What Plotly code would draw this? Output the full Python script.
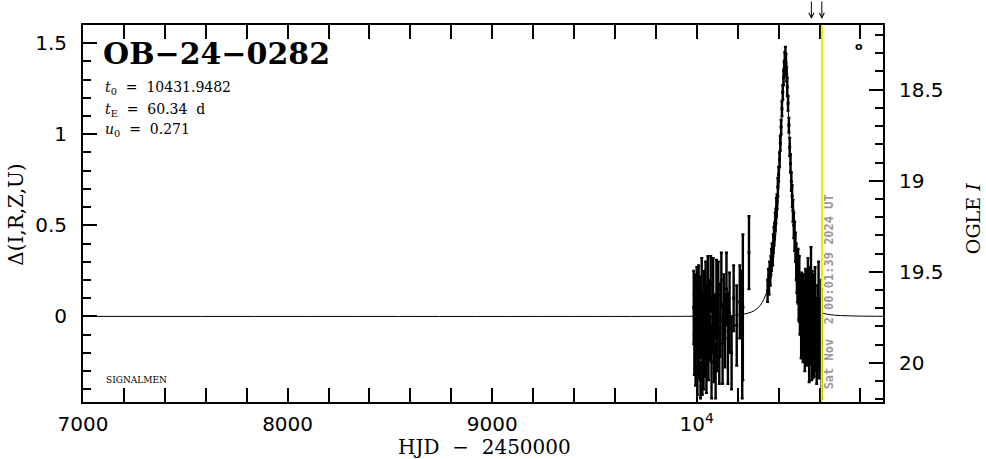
import plotly.graph_objects as go

# ---- data ----
hjd_pre = [9985, 9988, 9991, 9994, 9997, 10000, 10003, 10006, 10009, 10012, 10015, 10018, 10021,
           10024, 10027, 10030, 10033, 10036, 10040, 10043, 10047, 10050, 10054, 10057, 10061,
           10064, 10068, 10072, 10076, 10080, 10084, 10088, 10092, 10096, 10100, 10105, 10110,
           10115, 10120, 10126, 10132, 10138, 10145, 10152, 10160, 10170, 10180, 10195, 10210,
           10222, 10225, 10255]
dlt_pre = [0.05, -0.10, 0.08, -0.20, -0.05, 0.02, -0.28, -0.12, 0.10, -0.22, 0.00, -0.35, -0.08,
           0.12, -0.18, -0.02, -0.25, 0.05, -0.15, 0.15, -0.30, -0.05, 0.08, -0.20, 0.02,
           -0.12, 0.18, -0.25, -0.05, 0.10, -0.18, 0.00, -0.30, 0.06, -0.10, 0.12, -0.22,
           -0.02, 0.20, -0.15, 0.05, -0.08, 0.15, -0.12, 0.02, -0.20, 0.10, -0.05, 0.08,
           -0.10, 0.05, 0.35]
err_pre = [0.20, 0.22, 0.15, 0.18, 0.12, 0.25, 0.15, 0.20, 0.18, 0.12, 0.22, 0.10, 0.15,
           0.20, 0.25, 0.12, 0.15, 0.20, 0.18, 0.15, 0.12, 0.22, 0.25, 0.15, 0.18,
           0.12, 0.15, 0.20, 0.15, 0.22, 0.18, 0.12, 0.15, 0.25, 0.20, 0.18, 0.15,
           0.20, 0.15, 0.22, 0.18, 0.20, 0.20, 0.25, 0.22, 0.20, 0.18, 0.22, 0.20,
           0.35, 0.40, 0.20]

hjd_evt = [10346, 10350, 10353, 10356, 10359, 10362, 10365, 10368, 10371, 10374, 10377, 10380,
           10383, 10386, 10389, 10392, 10396, 10400, 10404, 10408, 10412, 10416, 10420, 10424,
           10427, 10430, 10433, 10436, 10439, 10442, 10446, 10450, 10454, 10458, 10462, 10466,
           10470, 10474, 10478, 10482, 10486, 10489, 10492, 10495, 10498, 10501, 10504, 10507,
           10510, 10513, 10516, 10519, 10522, 10525, 10528, 10531, 10534, 10537, 10540, 10543,
           10546, 10549, 10552, 10555, 10558, 10561, 10564, 10567, 10570, 10574, 10578, 10582,
           10586, 10590, 10595, 10600, 10606, 10610]
dlt_evt = [0.14, 0.20, 0.17, 0.24, 0.22, 0.28, 0.31, 0.35, 0.33, 0.40, 0.44, 0.47,
           0.52, 0.55, 0.60, 0.63, 0.71, 0.78, 0.86, 0.95, 1.04, 1.14, 1.23, 1.31,
           1.36, 1.40, 1.44, 1.39, 1.33, 1.26, 1.17, 1.05, 0.93, 0.84, 0.74, 0.66,
           0.58, 0.50, 0.44, 0.38, 0.30, 0.25, 0.18, 0.22, 0.10, 0.15, 0.02, 0.08,
           -0.05, 0.12, 0.00, -0.10, 0.05, -0.02, -0.15, 0.06, -0.08, 0.00, -0.12, 0.10,
           -0.05, -0.18, 0.02, -0.10, 0.06, -0.20, 0.05, -0.12, -0.05, -0.15, 0.02, -0.10,
           -0.22, -0.08, 0.00, -0.12, -0.05, -0.15]
err_evt = [0.06, 0.06, 0.05, 0.06, 0.05, 0.05, 0.06, 0.05, 0.05, 0.05, 0.05, 0.04,
           0.05, 0.04, 0.05, 0.04, 0.05, 0.04, 0.04, 0.04, 0.04, 0.04, 0.04, 0.04,
           0.04, 0.05, 0.04, 0.05, 0.04, 0.05, 0.04, 0.04, 0.05, 0.05, 0.05, 0.06,
           0.06, 0.07, 0.08, 0.08, 0.10, 0.12, 0.10, 0.15, 0.12, 0.18, 0.12, 0.15,
           0.18, 0.12, 0.20, 0.15, 0.18, 0.22, 0.15, 0.20, 0.18, 0.25, 0.15, 0.22,
           0.20, 0.18, 0.25, 0.15, 0.32, 0.15, 0.20, 0.22, 0.28, 0.18, 0.25, 0.20,
           0.15, 0.25, 0.30, 0.22, 0.25, 0.30]

model_t = [7000, 9800, 9950, 10070, 10130, 10190, 10251, 10281, 10311, 10341, 10360, 10372,
           10384, 10390, 10396, 10402, 10408, 10414, 10420, 10426, 10429, 10432, 10435, 10438,
           10444, 10450, 10456, 10462, 10468, 10474, 10480, 10492, 10504, 10523, 10553, 10583,
           10613, 10673, 10734, 10794, 10914]
model_d = [0, 0, 0.0005, 0.0017, 0.0035, 0.0067, 0.018, 0.032, 0.062, 0.131, 0.213, 0.299,
           0.425, 0.509, 0.611, 0.733, 0.879, 1.047, 1.226, 1.382, 1.430, 1.447, 1.430, 1.382,
           1.226, 1.047, 0.879, 0.733, 0.611, 0.509, 0.425, 0.299, 0.213, 0.131, 0.062, 0.032,
           0.018, 0.0067, 0.0035, 0.0017, 0.0005]

x_ticks = [7000, 8000, 9000, 10000]
x_ticktext = ["7000", "8000", "9000", "10<sup>4</sup>"]
y_ticks = [0, 0.5, 1, 1.5]
y_ticktext = ["0", "0.5", "1", "1.5"]
mag_ticks = [18.5, 19, 19.5, 20]
mag_ticktext = ["18.5", "19", "19.5", "20"]

t_now = 10611
t_last = 10560
event_name = "OB\u221224\u22120282"
par_lines = ["<i>t</i><sub>0</sub>\u00a0\u00a0=\u00a0\u00a010431.9482",
             "<i>t</i><sub>E</sub>\u00a0\u00a0=\u00a0\u00a060.34\u00a0\u00a0d",
             "<i>u</i><sub>0</sub>\u00a0\u00a0=\u00a0\u00a00.271"]
date_text = "Sat\u00a0Nov\u00a0\u00a02\u00a000:01:39\u00a02024\u00a0UT"

# ---- layout constants ----
XR = [7000, 10910]
YR = [-0.47, 1.6]
I0 = 19.745
MAGR = [I0 - YR[0], I0 - YR[1]]

fig = go.Figure()
fig.add_trace(go.Scatter(x=model_t, y=model_d, mode="lines", line=dict(color="black", width=1),
                         line_shape="spline", hoverinfo="skip", showlegend=False))
for xs, ys, es in [(hjd_pre, dlt_pre, err_pre), (hjd_evt, dlt_evt, err_evt)]:
    fig.add_trace(go.Scatter(x=xs, y=ys, mode="markers",
                             marker=dict(symbol="square", size=3, color="black"),
                             error_y=dict(type="data", array=es, color="black", thickness=2.4, width=1.5),
                             showlegend=False))
fig.add_trace(go.Scatter(x=[None], y=[None], yaxis="y2", showlegend=False))

fig.add_shape(type="line", x0=t_now, x1=t_now, y0=0, y1=1, xref="x", yref="paper",
              line=dict(color="#f0e800", width=2))

tickfont = dict(family="DejaVu Sans", size=20, color="black")
fig.update_layout(
    width=986, height=459,
    margin=dict(l=83, r=103, t=25, b=57),
    paper_bgcolor="white", plot_bgcolor="white",
    xaxis=dict(range=XR, tickmode="array", tickvals=x_ticks, ticktext=x_ticktext,
               ticks="inside", ticklen=14, tickwidth=1.5, tickcolor="black",
               minor=dict(tickmode="array", tickvals=[v for v in range(7200, 10901, 200) if v % 1000],
                          ticks="inside", ticklen=8, tickwidth=1.5, tickcolor="black"),
               showline=True, linecolor="black", linewidth=2, mirror="allticks",
               showgrid=False, zeroline=False, tickfont=tickfont, ticklabelstandoff=3),
    yaxis=dict(range=YR, tickmode="array", tickvals=y_ticks, ticktext=y_ticktext,
               ticks="inside", ticklen=14, tickwidth=1.5, tickcolor="black",
               minor=dict(tickmode="array",
                          tickvals=[k / 10 for k in range(-4, 16) if k % 5],
                          ticks="inside", ticklen=8, tickwidth=1.5, tickcolor="black"),
               showline=True, linecolor="black", linewidth=2, mirror=False,
               showgrid=False, zeroline=False, tickfont=tickfont, ticklabelstandoff=10),
    yaxis2=dict(range=MAGR, overlaying="y", side="right", anchor="x",
                tickmode="array", tickvals=mag_ticks, ticktext=mag_ticktext,
                ticks="inside", ticklen=14, tickwidth=1.5, tickcolor="black",
                minor=dict(tickmode="array",
                           tickvals=[k / 10 for k in range(182, 203) if k % 5],
                           ticks="inside", ticklen=8, tickwidth=1.5, tickcolor="black"),
                showline=True, linecolor="black", linewidth=2,
                showgrid=False, zeroline=False, tickfont=tickfont, ticklabelstandoff=10),
)

serif = "DejaVu Serif"
ann = []
ann.append(dict(text="<b>" + event_name + "</b>", x=0.022, y=0.925, xref="paper", yref="paper",
                xanchor="left", yanchor="middle", showarrow=False,
                font=dict(family=serif, size=30, color="black")))
for i, s in enumerate(par_lines):
    ann.append(dict(text=s, x=0.025, y=[0.833, 0.775, 0.721][i], xref="paper", yref="paper",
                    xanchor="left", yanchor="middle", showarrow=False,
                    font=dict(family=serif, size=14, color="black")))
ann.append(dict(text="SIGNALMEN", x=0.026, y=0.058, xref="paper", yref="paper", xanchor="left",
                yanchor="middle", showarrow=False, font=dict(family=serif, size=9, color="black")))
ann.append(dict(text="<b>o</b>", x=0.97, y=0.942, xref="paper", yref="paper", showarrow=False,
                xanchor="center", yanchor="middle",
                font=dict(family="DejaVu Sans", size=11, color="black")))
ann.append(dict(text="<b>" + date_text + "</b>", x=t_now, xshift=7, y=0.293, xref="x", yref="paper",
                textangle=-90, showarrow=False, xanchor="center", yanchor="middle",
                font=dict(family="DejaVu Sans Mono", size=12, color="#999999")))
ann.append(dict(text="\u0394(I,R,Z,U)", x=-0.084, y=0.496, xref="paper", yref="paper",
                xanchor="center", yanchor="middle",
                textangle=-90, showarrow=False, font=dict(family=serif, size=20, color="black")))
ann.append(dict(text="OGLE <i>I</i>", x=1.1125, y=0.485, xref="paper", yref="paper",
                xanchor="center", yanchor="middle",
                textangle=-90, showarrow=False, font=dict(family=serif, size=19, color="black")))
ann.append(dict(text="HJD\u00a0\u00a0\u2212\u00a0\u00a02450000", x=0.5025, y=-0.12, xref="paper", yref="paper",
                xanchor="center", showarrow=False, yanchor="middle",
                font=dict(family=serif, size=20, color="black")))
for xa in [t_last, t_now]:
    ann.append(dict(text="", x=xa, y=1.016, xref="x", yref="paper", ax=0, ay=-20,
                    showarrow=True, arrowhead=5, arrowsize=1, arrowwidth=1, arrowcolor="black"))
fig.update_layout(annotations=ann)

fig.write_html("out.html", config={"displayModeBar": False},
               post_script="document.body.style.margin='0';")
